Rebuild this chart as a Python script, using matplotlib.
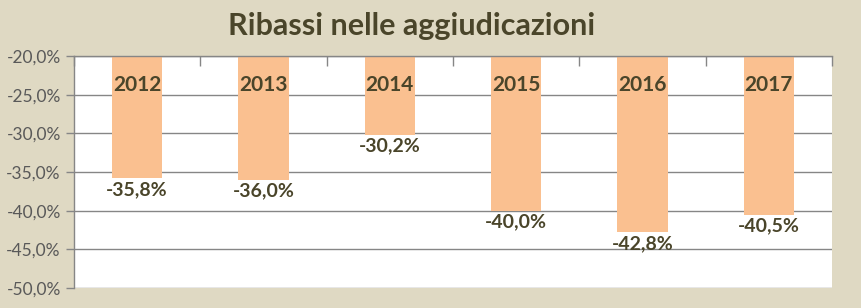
import numpy as np
import matplotlib.pyplot as plt

years = ['2012', '2013', '2014', '2015', '2016', '2017']
ribassi = [-35.8, -36.0, -30.2, -40.0, -42.8, -40.5]
yticks = [-20, -25, -30, -35, -40, -45, -50]

bg = '#DFD9C3'
bar_col = '#FAC090'
txt_col = '#4A452A'
grid_col = '#868686'

plt.rcParams['font.family'] = ['Lato', 'DejaVu Sans']

fig = plt.figure(figsize=(8.61, 3.08), dpi=100, facecolor=bg)
ax = fig.add_axes([74/861, 20/308, (832-74)/861, (288-56)/308])
ax.set_facecolor('white')

top = -20
x = np.arange(len(years))
vals = np.array(ribassi)
ax.bar(x, vals - top, bottom=top, width=0.4, color=bar_col, zorder=2)

ax.set_xlim(-0.5, len(years) - 0.5)
ax.set_ylim(-50, -20)
ax.set_yticks(yticks)
ax.set_yticklabels([f'{v:.1f}%'.replace('.', ',') for v in yticks],
                   fontsize=12.5, color='#595959')
ax.yaxis.grid(True, color=grid_col, linewidth=1)
ax.set_axisbelow(True)

for xi, yr, v in zip(x, years, vals):
    ax.text(xi, -23.7, yr, ha='center', va='center', fontsize=15,
            fontweight='bold', color=txt_col, zorder=3)
    ax.annotate(f'{v:.1f}%'.replace('.', ','), (xi, v), xytext=(0, -2),
                textcoords='offset points', ha='center', va='top',
                fontsize=14, fontweight='bold', color=txt_col, zorder=3)

# category axis on top with boundary ticks
ax.xaxis.tick_top()
ax.set_xticks(np.arange(-0.5, len(years) + 0.5, 1))
ax.set_xticklabels([])
ax.tick_params(axis='x', direction='in', length=7, color=grid_col, width=1)
ax.tick_params(axis='y', direction='out', length=6, color=grid_col, width=1)

for s in ['right', 'bottom']:
    ax.spines[s].set_visible(False)
for s in ['left', 'top']:
    ax.spines[s].set_color(grid_col)
    ax.spines[s].set_linewidth(1)

fig.text(0.478, 0.915, 'Ribassi nelle aggiudicazioni', ha='center', va='center',
         fontsize=22, fontweight='bold', color=txt_col)

fig.savefig('out.png', dpi=100, facecolor=bg)
